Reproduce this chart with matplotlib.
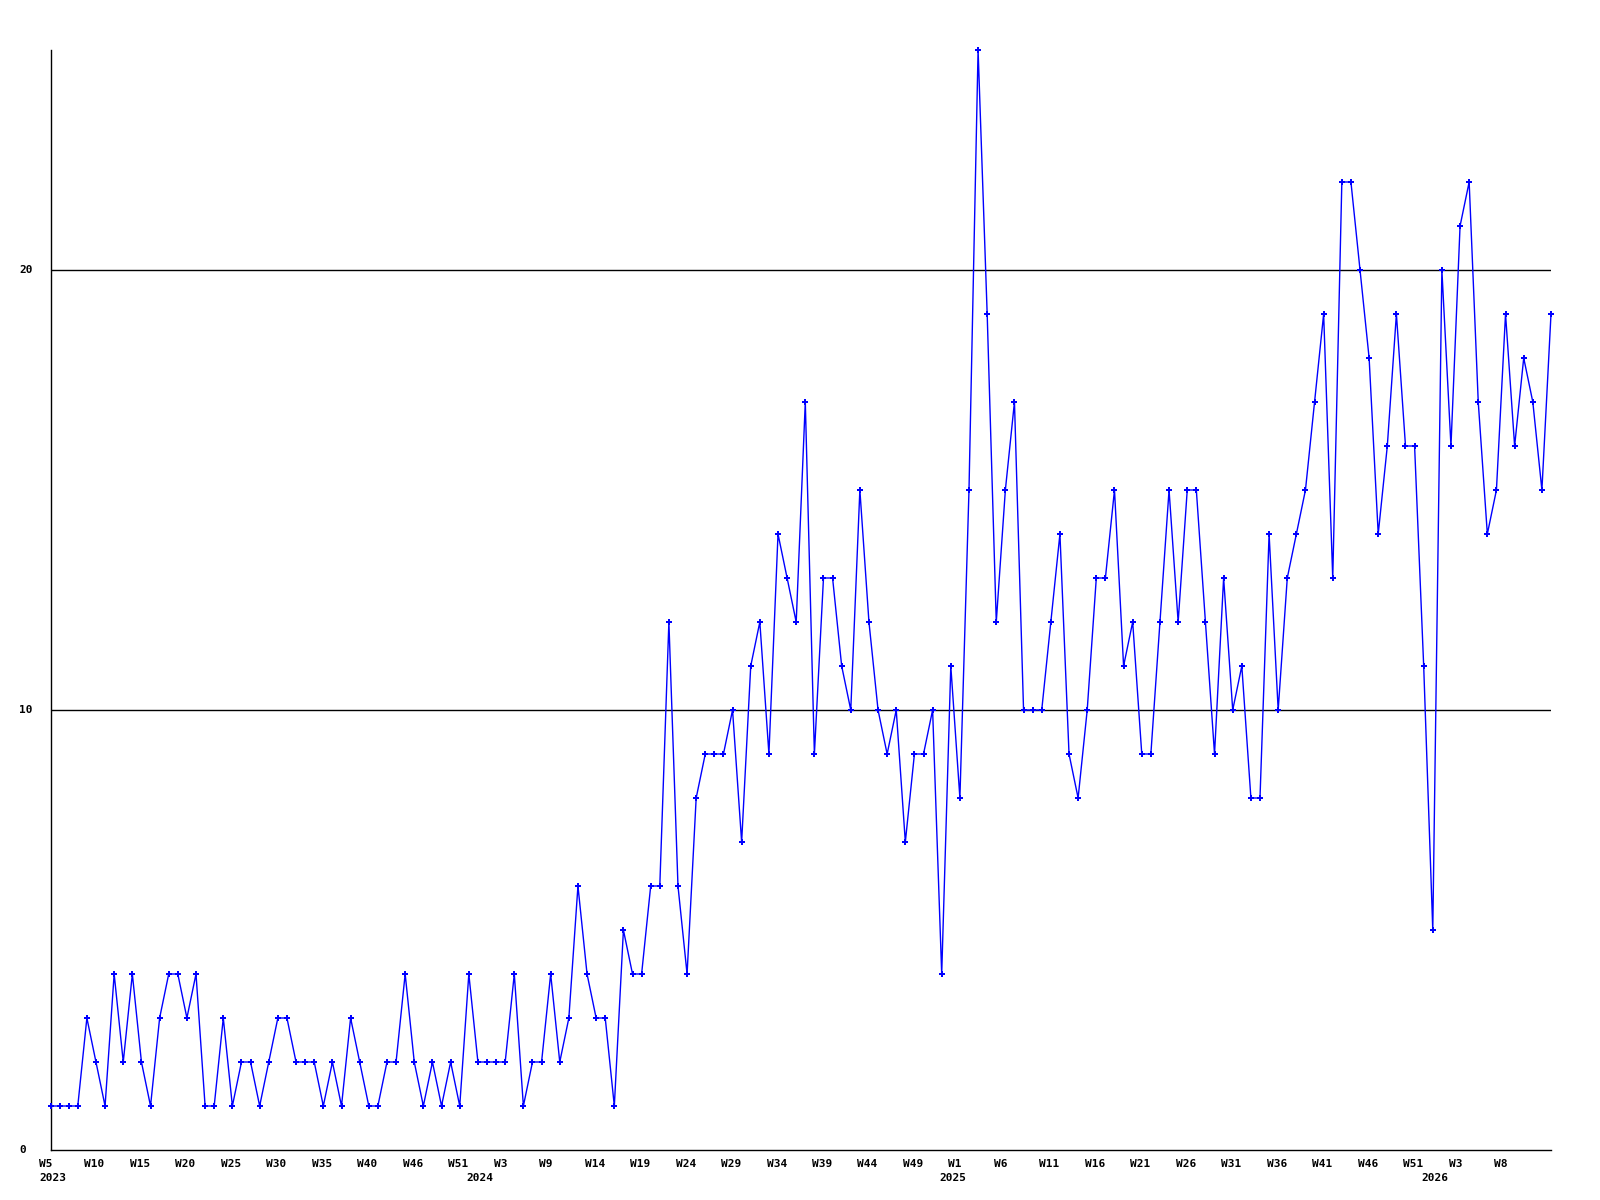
import numpy as np
import matplotlib
matplotlib.use("Agg")
import matplotlib.pyplot as plt
import matplotlib.transforms as mtransforms

# weekly counts, W5 2023 onwards
counts = [
    1, 1, 1, 1, 3, 2, 1, 4, 2, 4, 2, 1, 3, 4, 4, 3, 4, 1, 1, 3,
    1, 2, 2, 1, 2, 3, 3, 2, 2, 2, 1, 2, 1, 3, 2, 1, 1, 2, 2, 4,
    2, 1, 2, 1, 2, 1, 4, 2, 2, 2, 2, 4, 1, 2, 2, 4, 2, 3, 6, 4,
    3, 3, 1, 5, 4, 4, 6, 6, 12, 6, 4, 8, 9, 9, 9, 10, 7, 11, 12, 9,
    14, 13, 12, 17, 9, 13, 13, 11, 10, 15, 12, 10, 9, 10, 7, 9, 9, 10, 4, 11,
    8, 15, 25, 19, 12, 15, 17, 10, 10, 10, 12, 14, 9, 8, 10, 13, 13, 15, 11, 12,
    9, 9, 12, 15, 12, 15, 15, 12, 9, 13, 10, 11, 8, 8, 14, 10, 13, 14, 15, 17,
    19, 13, 22, 22, 20, 18, 14, 16, 19, 16, 16, 11, 5, 20, 16, 21, 22, 17, 14, 15,
    19, 16, 18, 17, 15, 19,
]

week_labels = ["W5", "W10", "W15", "W20", "W25", "W30", "W35", "W40", "W46", "W51",
               "W3", "W9", "W14", "W19", "W24", "W29", "W34", "W39", "W44", "W49",
               "W1", "W6", "W11", "W16", "W21", "W26", "W31", "W36", "W41", "W46",
               "W51", "W3", "W8"]
year_labels = ["2023", "2024", "2025", "2026"]
year_pos = [0, 47, 99, 152]
y_ticks = [0, 10, 20]

font = dict(family="DejaVu Sans Mono", weight="bold", size=8)

fig = plt.figure(figsize=(16, 12), dpi=100)
ax = fig.add_axes([50.5 / 1600, 50 / 1200, 1500.5 / 1600, 1100 / 1200])

x = np.arange(len(counts))
ax.plot(x, counts, color="#0000ff", linewidth=1, marker="P", markersize=4,
        markeredgewidth=0, clip_on=False, zorder=3)

ax.set_xlim(0, len(counts) - 1)
ax.set_ylim(0, 25)

for v in y_ticks[1:]:
    ax.axhline(v, color="black", linewidth=1, zorder=1)

ax.spines["top"].set_visible(False)
ax.spines["right"].set_visible(False)
ax.spines["left"].set_linewidth(1)
ax.spines["bottom"].set_linewidth(1)
ax.set_xticks([])
ax.set_yticks([])

# y labels, left aligned near the figure edge
ytrans = mtransforms.blended_transform_factory(fig.transFigure, ax.transData)
for v in y_ticks:
    ax.text(19 / 1600, v, str(v), transform=ytrans, ha="left", va="center", **font)

# week labels start a bit left of their point
base = mtransforms.blended_transform_factory(ax.transData, ax.transAxes)
shift = mtransforms.ScaledTranslation(-11.5 / 100, -9 / 100, fig.dpi_scale_trans)
ticks = np.arange(0, len(counts), 5)[:len(week_labels)]
for t, lab in zip(ticks, week_labels):
    ax.text(t, 0, lab, transform=base + shift, ha="left", va="top", **font)

shift2 = mtransforms.ScaledTranslation(-11.5 / 100, -23 / 100, fig.dpi_scale_trans)
for pos, lab in zip(year_pos, year_labels):
    ax.text(pos, 0, lab, transform=base + shift2, ha="left", va="top", **font)

fig.savefig("out.png", dpi=100)
